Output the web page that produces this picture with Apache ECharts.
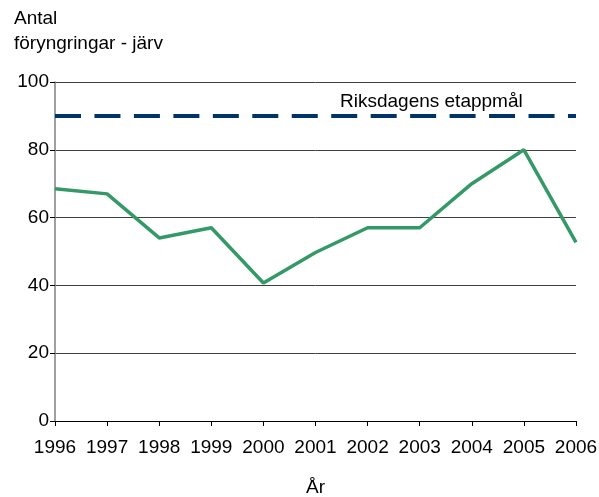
<!DOCTYPE html>
<html>
<head>
<meta charset="utf-8">
<script src="https://cdn.jsdelivr.net/npm/echarts@6/dist/echarts.min.js"></script>
<style>
html,body{margin:0;padding:0;background:#fff;}
#chart{width:599px;height:497px;}
</style>
</head>
<body>
<div id="chart"></div>
<script>
var years = ['1996','1997','1998','1999','2000','2001','2002','2003','2004','2005','2006'];
var foryngringar = [68.5, 67, 54, 57, 40.7, 49.7, 57, 57, 70, 80, 52.7];
var etappmal = 90;
var etappmalLabel = 'Riksdagens etappmål';
var yTicks = {min: 0, max: 100, interval: 20};

var FONT = 'Liberation Sans, Arial, sans-serif';
var chart = echarts.init(document.getElementById('chart'), null, {renderer: 'canvas'});
chart.setOption({
  animation: false,
  backgroundColor: '#ffffff',
  textStyle: {fontFamily: FONT},
  title: {
    text: 'Antal\nföryngringar - järv',
    left: 14,
    top: 6,
    padding: 0,
    textStyle: {fontFamily: FONT, fontSize: 19, fontWeight: 'normal', color: '#000', lineHeight: 25}
  },
  grid: {left: 55, right: 23, top: 82, bottom: 76, containLabel: false, outerBoundsMode: 'none'},
  xAxis: {
    type: 'category',
    data: years,
    boundaryGap: false,
    name: 'År',
    nameLocation: 'middle',
    nameGap: 57,
    nameTextStyle: {fontFamily: FONT, fontSize: 19, color: '#000', verticalAlign: 'top'},
    axisLine: {lineStyle: {color: '#000', width: 1}},
    axisTick: {show: true, inside: false, length: 5, interval: 0, lineStyle: {color: '#000'}},
    axisLabel: {fontFamily: FONT, fontSize: 19, color: '#000', margin: 17, interval: 0, hideOverlap: false},
    splitLine: {show: false}
  },
  yAxis: {
    type: 'value',
    min: yTicks.min,
    max: yTicks.max,
    interval: yTicks.interval,
    axisLine: {show: true, lineStyle: {color: '#808080', width: 1.5}},
    axisTick: {show: true, inside: false, length: 5, lineStyle: {color: '#000'}},
    axisLabel: {fontFamily: FONT, fontSize: 19, color: '#000', margin: 6},
    splitLine: {show: true, lineStyle: {color: '#404040', width: 1}}
  },
  graphic: [{
    type: 'text',
    left: 340,
    top: 92,
    style: {text: etappmalLabel, fontFamily: FONT, fontSize: 19, fill: '#000'}
  }],
  series: [{
    type: 'line',
    data: foryngringar,
    showSymbol: false,
    symbol: 'none',
    lineStyle: {color: '#339966', width: 3.5},
    itemStyle: {color: '#339966'},
    z: 3,
    markLine: {
      silent: true,
      symbol: ['none', 'none'],
      label: {show: false},
      lineStyle: {color: '#003366', width: 4, type: [26, 13.46]},
      data: [{yAxis: etappmal}]
    }
  }]
});
</script>
</body>
</html>
